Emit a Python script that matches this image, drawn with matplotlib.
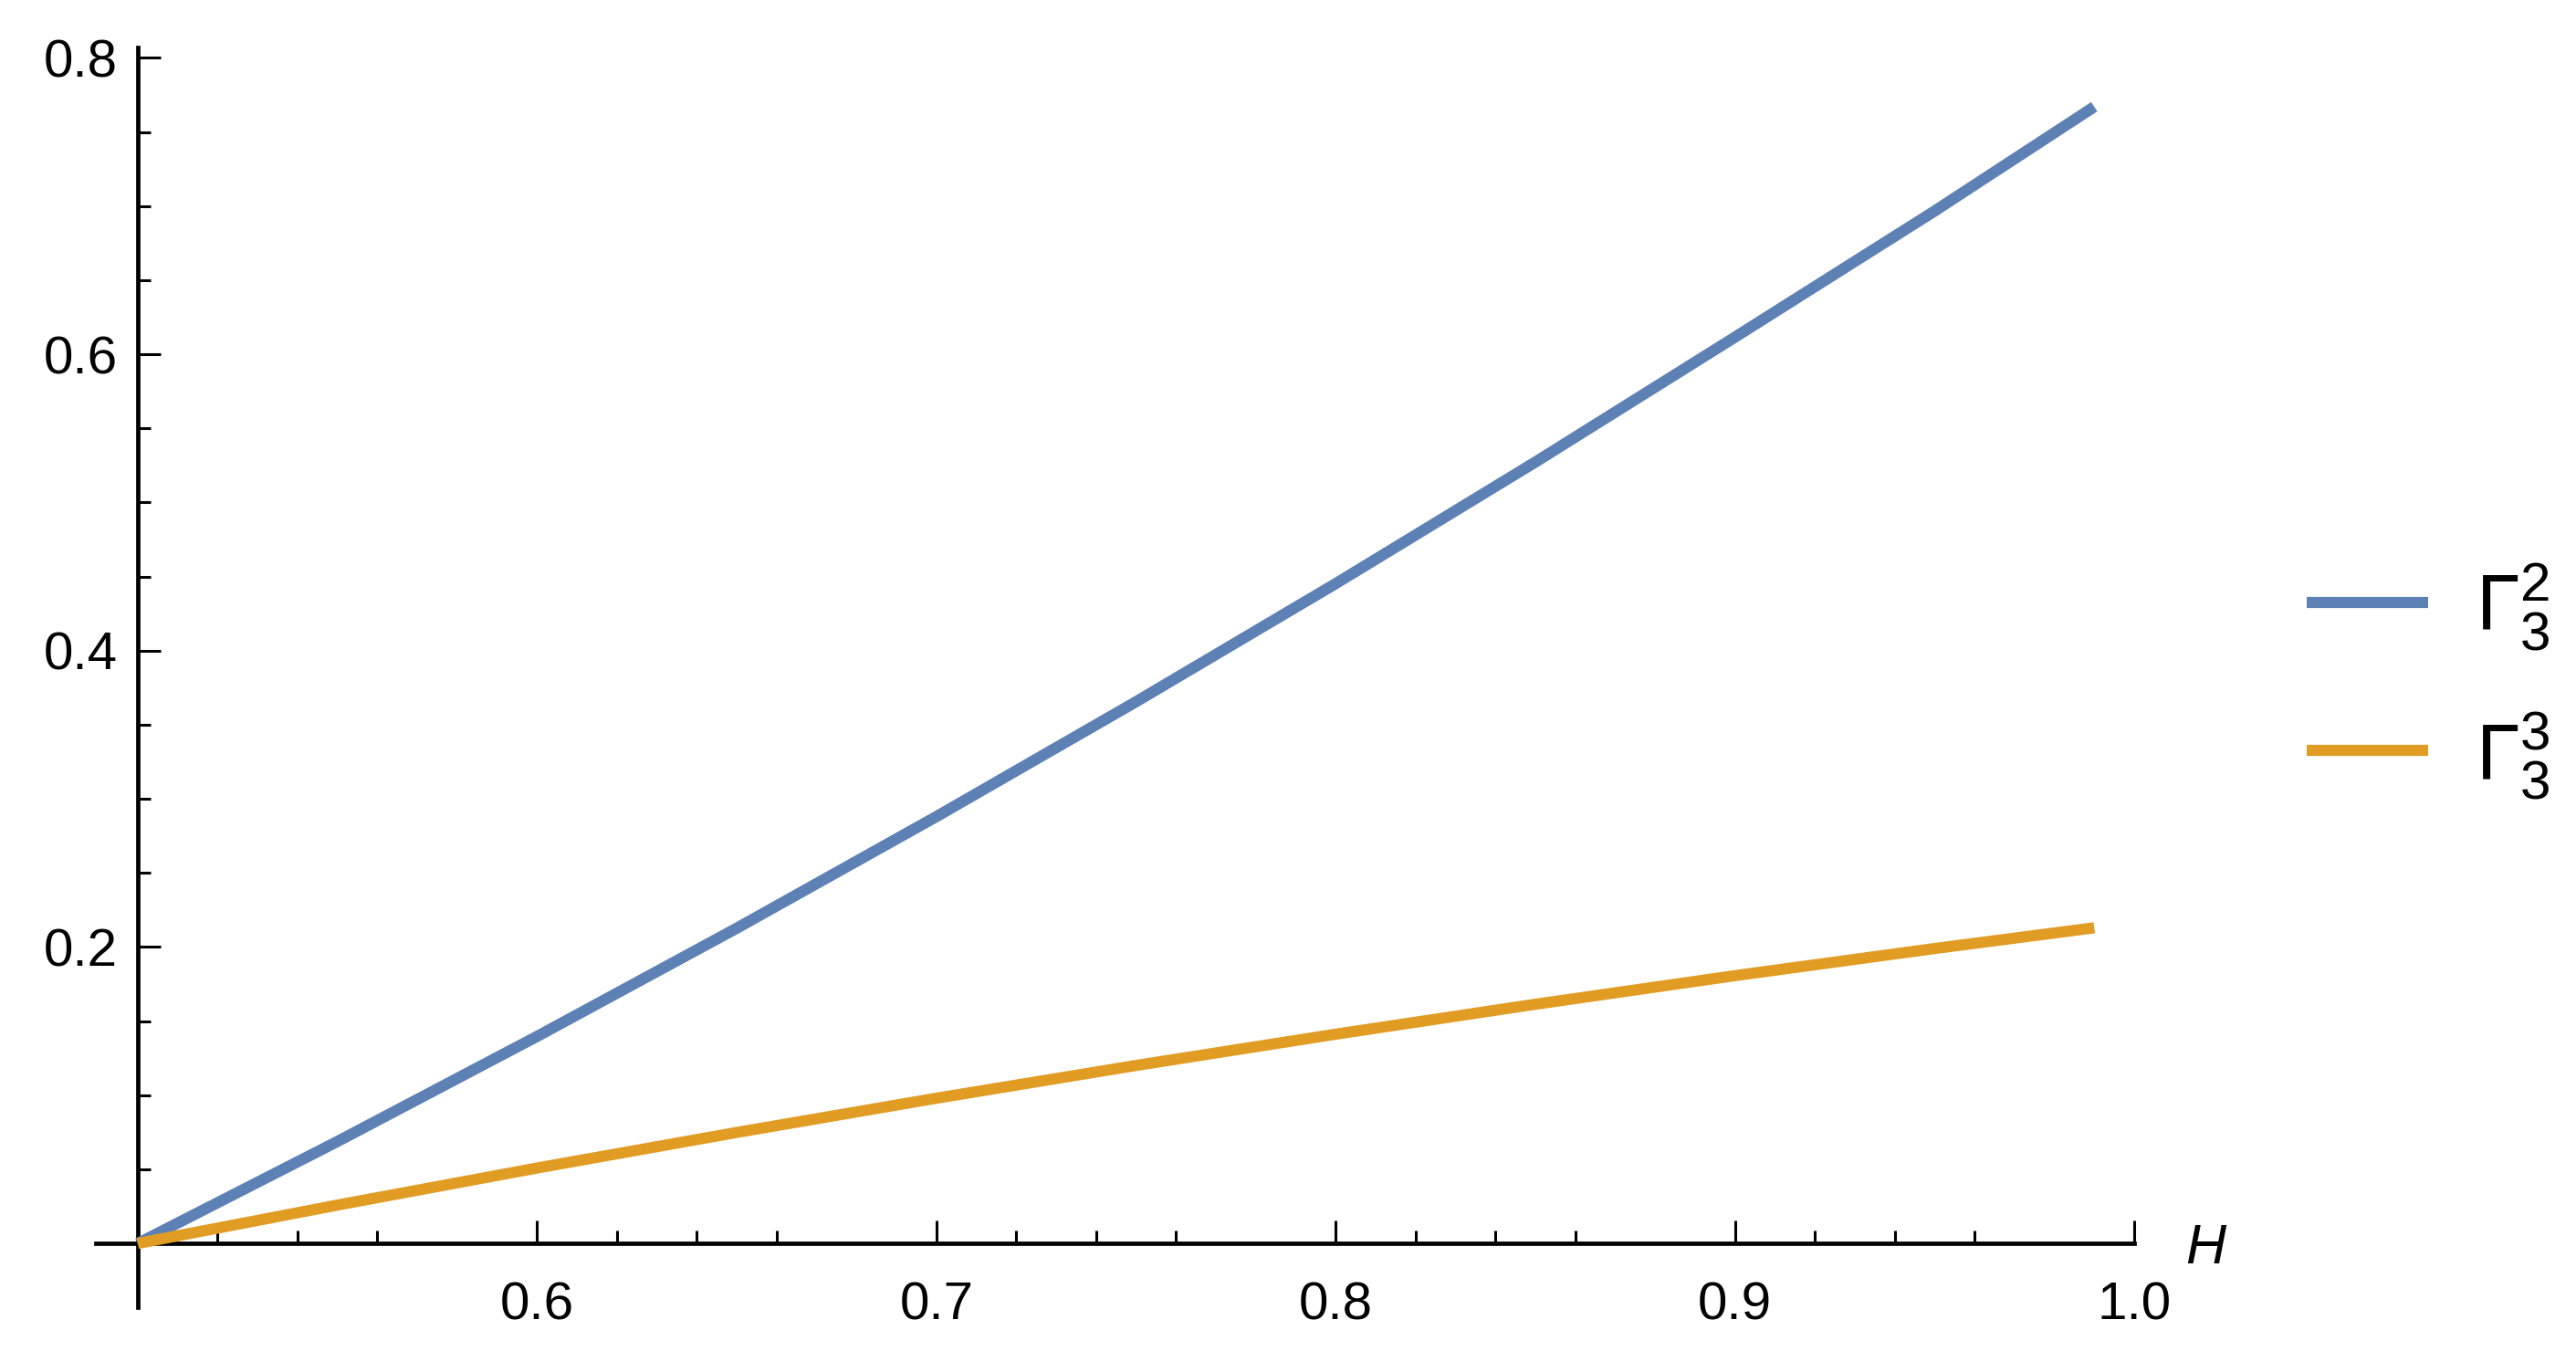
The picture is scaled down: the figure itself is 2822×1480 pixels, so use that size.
import matplotlib
matplotlib.use("Agg")
import matplotlib.pyplot as plt
from matplotlib.ticker import FixedLocator

# values
H = [0.5, 0.55, 0.6, 0.65, 0.7, 0.75, 0.8, 0.85, 0.9, 0.95, 0.99]
gamma_3_2 = [0.0, 0.0688, 0.1397, 0.2127, 0.288, 0.3655, 0.4452, 0.5272, 0.6115, 0.6966, 0.767]
gamma_3_3 = [0.0, 0.0259, 0.0509, 0.0749, 0.098, 0.1201, 0.1412, 0.1614, 0.1807, 0.199, 0.213]
series_labels = [r"$\Gamma_3^2$", r"$\Gamma_3^3$"]
x_ticks = [0.6, 0.7, 0.8, 0.9, 1.0]
y_ticks = [0.2, 0.4, 0.6, 0.8]

plt.rcParams["font.family"] = ["Liberation Sans", "DejaVu Sans"]
plt.rcParams["mathtext.fontset"] = "custom"
plt.rcParams["mathtext.rm"] = "Liberation Sans"
plt.rcParams["mathtext.it"] = "Liberation Sans:italic"

W, Hpx = 2822, 1480
fig = plt.figure(figsize=(W / 200, Hpx / 200), dpi=200)
ax = fig.add_axes([105 / W, 48 / Hpx, (2338 - 105) / W, (1432 - 52) / Hpx])

ax.plot(H, gamma_3_2, color="#5E81B5", lw=4.4, solid_capstyle="butt", solid_joinstyle="round",
        clip_on=False, zorder=3, label=series_labels[0])
ax.plot(H, gamma_3_3, color="#E19C24", lw=4.4, solid_capstyle="butt", solid_joinstyle="round",
        clip_on=False, zorder=3, label=series_labels[1])

ax.set_xlim(0.4895, 1.0)
ax.set_ylim(-0.043, 0.807)

# Mathematica-style axes crossing at (0.5, 0)
ax.spines["left"].set_position(("data", 0.5))
ax.spines["bottom"].set_position(("data", 0))
ax.spines["top"].set_visible(False)
ax.spines["right"].set_visible(False)
for s in ("left", "bottom"):
    ax.spines[s].set_linewidth(1.7)

ax.xaxis.set_major_locator(FixedLocator(x_ticks))
ax.xaxis.set_minor_locator(FixedLocator([0.52 + 0.02 * i for i in range(24) if (i + 1) % 5 != 4]))
ax.yaxis.set_major_locator(FixedLocator(y_ticks))
ax.yaxis.set_minor_locator(FixedLocator([0.05 * i for i in range(1, 17) if i % 4 != 0]))
ax.set_xticklabels([f"{v:.1f}" for v in x_ticks])
ax.set_yticklabels([f"{v:.1f}" for v in y_ticks])

ax.tick_params(which="both", direction="in", width=1.1, labelsize=21)
ax.tick_params(axis="x", which="major", length=9, pad=15)
ax.tick_params(axis="y", which="major", length=9, pad=8)
ax.tick_params(which="minor", length=5)

fig.text(2394 / W, (Hpx - 1368) / Hpx, "H", fontsize=22, style="italic", va="center", ha="left")

fig.legend(loc="center left", bbox_to_anchor=(2527 / W, (Hpx - 746) / Hpx), frameon=False,
           fontsize=31, handlelength=1.55, handletextpad=0.6, labelspacing=0.73,
           borderpad=0, borderaxespad=0)

fig.savefig("out.png", dpi=200)
